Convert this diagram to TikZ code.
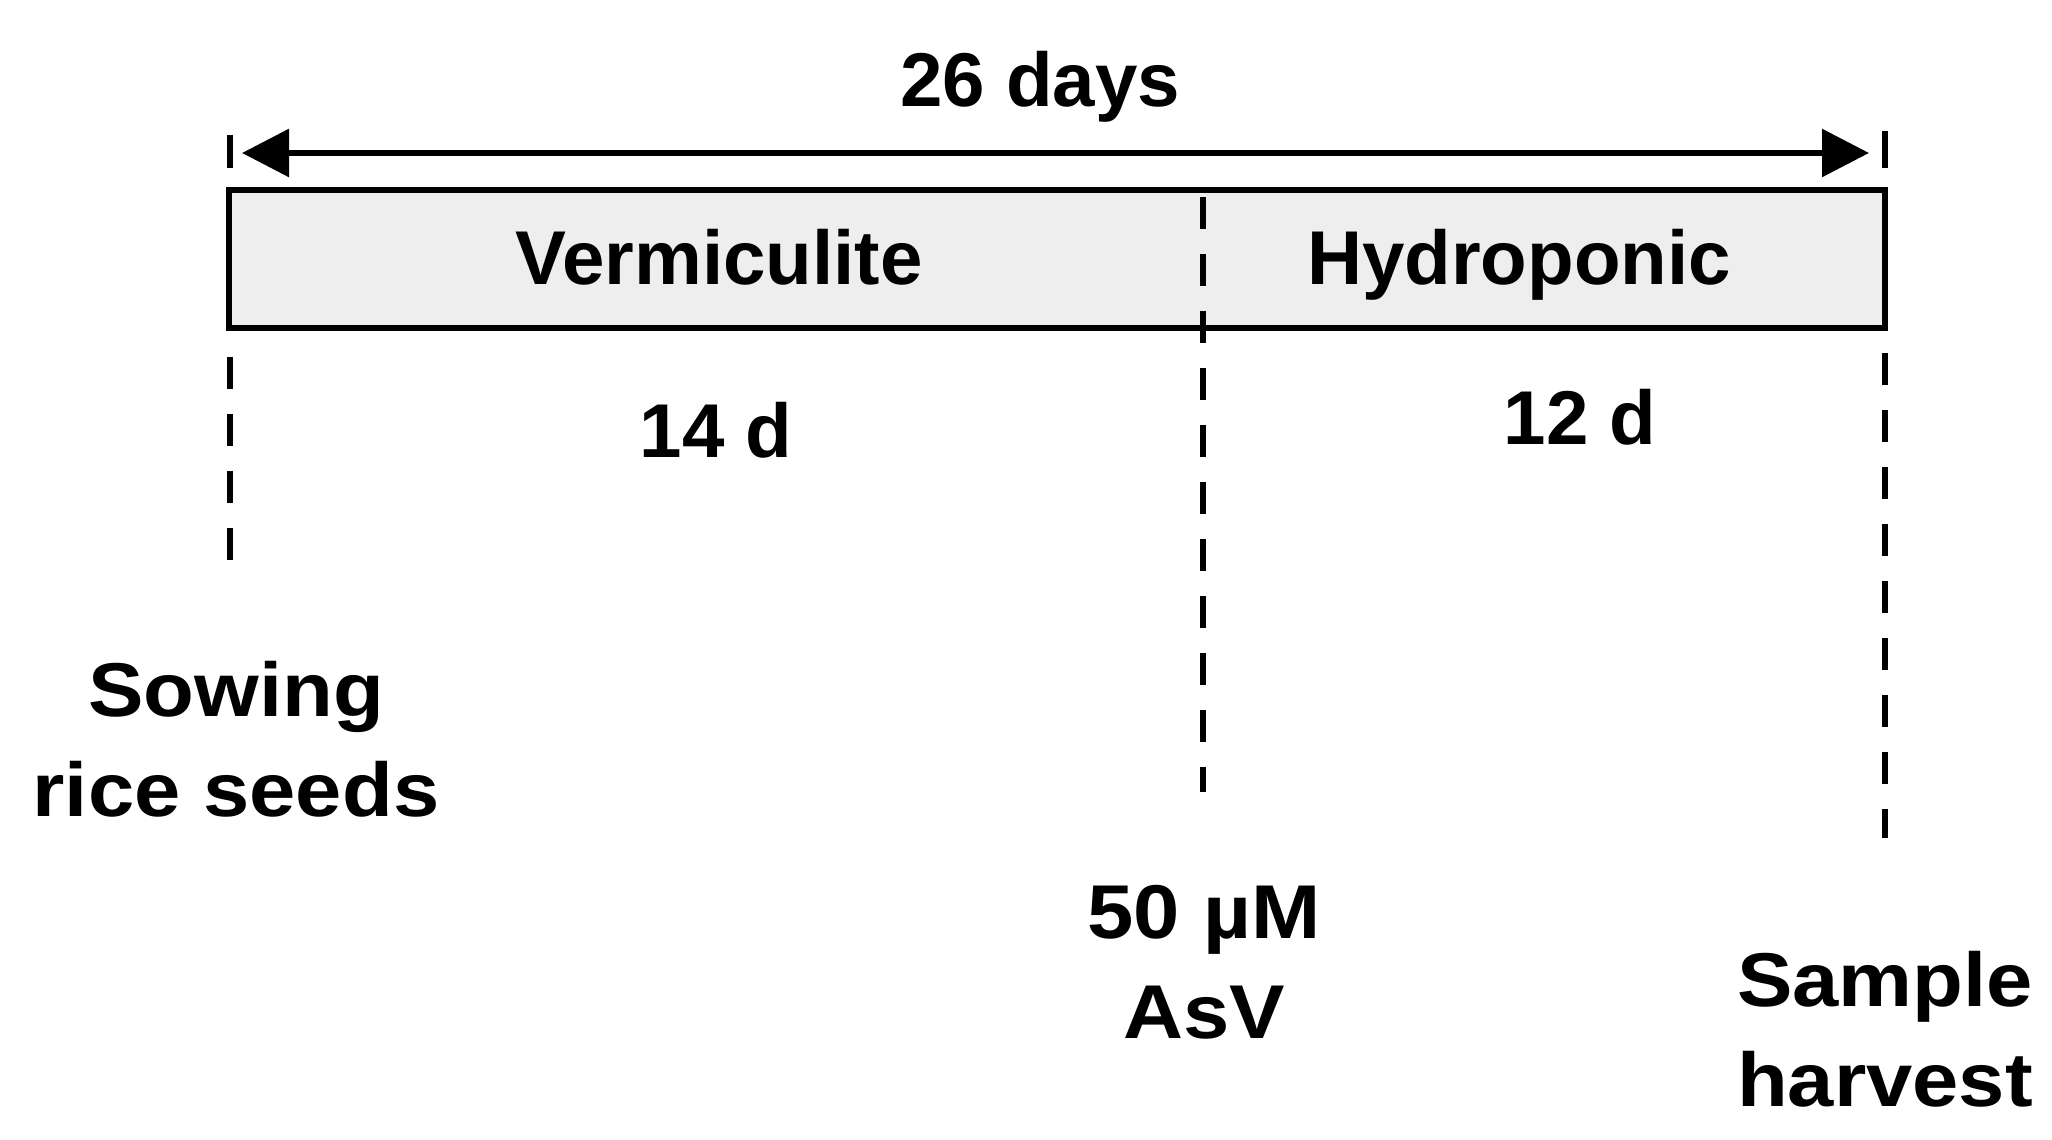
\documentclass[tikz,border=0pt]{standalone}
\usepackage{fontspec}
\setmainfont{Liberation Sans}
\newfontfamily\widesans{Liberation Sans}[FakeStretch=1.09]
\usetikzlibrary{arrows.meta}

\begin{document}
\begin{tikzpicture}[
  >={Triangle[length=4.7mm, width=4.7mm]},
  lbl/.style={font=\fontsize{21.7}{28.5}\selectfont\bfseries, inner sep=0pt, align=center},
  event/.style={lbl, font=\widesans\fontsize{21.7}{28.5}\selectfont\bfseries},
  guide/.style={line width=0.65mm, dash pattern=on 3.2mm off 2.5mm},
  dim/.style={<->, line width=0.6mm},
]
\definecolor{cbar}{HTML}{EEEEEE}
\useasboundingbox (0,0) rectangle (20.52,11.40);
\node[draw, fill=cbar, line width=0.6mm, minimum width=16.56cm, minimum height=1.38cm, inner sep=0pt] (bar) at (10.57,8.81) {};
% span of the whole run
\coordinate (tickLa) at (2.30,10.05);
\coordinate (tickLb) at (2.30,9.72);
\coordinate (tickRa) at (18.85,10.09);
\coordinate (tickRb) at (18.85,9.72);
\coordinate (arrL) at (2.42,9.87);
\coordinate (arrR) at (18.69,9.87);
\draw[line width=0.65mm] (tickLa) -- (tickLb);
\draw[line width=0.65mm] (tickRa) -- (tickRb);
\draw[dim] (arrL) -- (arrR);
\node[lbl, anchor=base] (days) at (10.40,10.33) {26 days};
% stages
\node[lbl, anchor=base] (verm) at (7.19,8.55) {Vermiculite};
\node[lbl, anchor=base] (hydro) at (15.19,8.55) {Hydroponic};
\node[lbl, anchor=base] (d14) at (7.16,6.82) {14 d};
\node[lbl, anchor=base] (d12) at (15.80,6.95) {12 d};
% time points
\coordinate (sowTop) at (2.30,7.83);
\coordinate (sowEnd) at (2.30,5.62);
\coordinate (asvTop) at (12.03,9.43);
\coordinate (asvEnd) at (12.03,3.48);
\coordinate (harvTop) at (18.85,7.87);
\coordinate (harvEnd) at (18.85,3.02);
\draw[guide] (sowTop) -- (sowEnd);
\draw[guide] (asvTop) -- (asvEnd);
\draw[guide] (harvTop) -- (harvEnd);
\node[event] (sow) at (2.36,4.01) {Sowing\\rice seeds};
\node[event] (asv) at (12.04,1.78) {50 µM\\AsV};
\node[event] (harv) at (18.85,1.11) {Sample\\harvest};
\end{tikzpicture}
\end{document}
